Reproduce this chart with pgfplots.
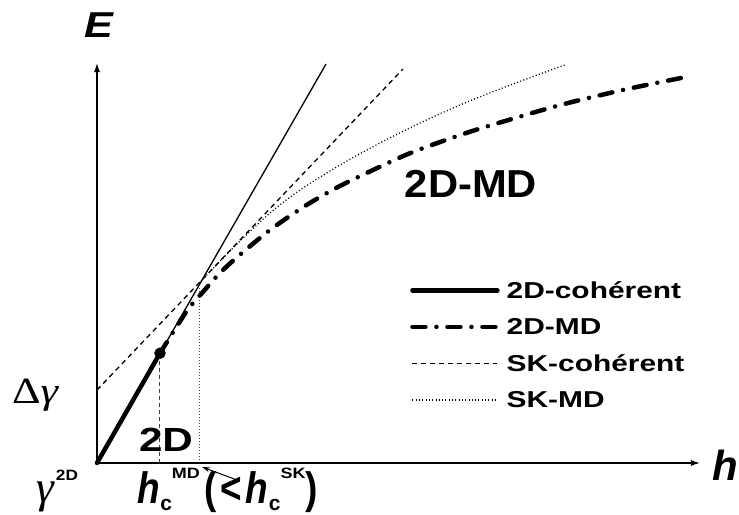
\documentclass[border=0pt]{standalone}
\usepackage{fontspec}
\setmainfont{Liberation Sans}
\newfontfamily\serif{Liberation Serif}
\usepackage{graphicx}
\usepackage{pgfplots}
\pgfplotsset{compat=1.18}
\usetikzlibrary{arrows.meta}
\newcommand{\BIG}[1]{\scalebox{0.84}[1]{\fontsize{44bp}{44bp}\selectfont\bfseries #1}}
\newcommand{\SUB}{\raisebox{-7bp}{\fontsize{21bp}{21bp}\selectfont\bfseries c}}
\newcommand{\SUP}[1]{\raisebox{25bp}{\scalebox{1.2}[1]{\fontsize{15bp}{15bp}\selectfont\bfseries #1}}}
\newcommand{\LEG}[1]{\scalebox{1.3}[1]{#1}}
\begin{document}
\begin{tikzpicture}
\begin{axis}[
  x=1bp, y=1bp, xmin=0, xmax=603, ymin=0, ymax=400,
  axis lines=left, xtick=\empty, ytick=\empty, clip=false, enlargelimits=false,
  axis line style={line width=1.2bp},
  x axis line style={-{Latex[length=9bp,width=6bp]}},
  y axis line style={-{Latex[length=9bp,width=6bp]}},
  legend style={draw=none, fill=none, at={(axis cs:313,184)}, anchor=north west,
    font=\fontsize{23bp}{27bp}\selectfont\bfseries, inner sep=0pt, row sep=14.6bp,
    /tikz/every odd column/.style={column sep=5bp}},
  legend cell align=left,
  legend image code/.code={\draw[#1] (0bp,0bp) -- (85bp,0bp);},
]
% thin full 2D-coherent line
\addplot[line width=1.3bp, forget plot] coordinates {(0,0) (229,399)};
% thick part
\addplot[line width=4.5bp, line cap=round] coordinates {(0,0) (63,109.8)};
\addlegendentry{\LEG{2D-cohérent}}
% 2D-MD
\addplot[line width=4.5bp, line cap=round, dash pattern=on 13bp off 11bp on 0bp off 11bp, smooth] coordinates {
 (63,109.8) (80,137) (92,155) (105,170) (121,188) (138,204) (173,233) (208,257) (241,276) (276,293) (311,309) (346,322) (380,333.5) (415,344) (449,354) (483,363) (535,375) (589,386)};
\addlegendentry{\LEG{2D-MD}}
% SK-coherent
\addplot[line width=1.3bp, dash pattern=on 5bp off 4bp] coordinates {(0,73) (306,394)};
\addlegendentry{\LEG{SK-cohérent}}
% SK-MD
\addplot[line width=1.3bp, dash pattern=on 1bp off 2.3bp, smooth] coordinates {
 (105,183) (140,219) (173,250) (203,273) (243,298) (283,320) (323,340) (363,358) (403,374) (443,389) (468,398)};
\addlegendentry{\LEG{SK-MD}}
% verticals
\addplot[line width=1bp, dash pattern=on 4bp off 3bp, black!75, forget plot] coordinates {(63,0) (63,109.8)};
\addplot[line width=1bp, dash pattern=on 1bp off 2bp, black!75, forget plot] coordinates {(103,0) (103,175)};
% dot
\addplot[only marks, mark=*, mark size=5.5bp, forget plot] coordinates {(63,109.8)};

\node[inner sep=0pt] at (axis cs:2,438) {\scalebox{1.2}[1]{\fontsize{36bp}{36bp}\selectfont\bfseries\itshape E}};
\node[inner sep=0pt] at (axis cs:628,-2) {\fontsize{42bp}{42bp}\selectfont\bfseries\itshape h};
\node[anchor=base west, inner sep=0pt] at (axis cs:-85,60) {\scalebox{1.2}[1]{\fontsize{37bp}{37bp}\selectfont\serif Δ\itshape γ}};
\node[anchor=base west, inner sep=0pt] at (axis cs:-61,-39) {\fontsize{45bp}{45bp}\selectfont{\serif\itshape γ}\kern2bp\raisebox{22bp}{\scalebox{1.15}[1]{\fontsize{15bp}{15bp}\selectfont\bfseries 2D}}};
\node[anchor=base west, inner sep=0pt] at (axis cs:40,-40) {\BIG{\textit{h}}\kern0.5bp\SUB\SUP{MD}\kern5bp\BIG{(}\kern3bp\BIG{<}\kern4bp\BIG{\textit{h}}\kern0.5bp\SUB\SUP{SK}\BIG{)}};
\node[inner sep=0pt] at (axis cs:69,23) {\scalebox{1.26}[1]{\fontsize{33.5bp}{33.5bp}\selectfont\bfseries 2D}};
\node[inner sep=0pt] at (axis cs:374,279) {\scalebox{1.07}[1]{\fontsize{39bp}{39bp}\selectfont\bfseries 2D-MD}};
\draw[-{Stealth[length=8bp,width=5bp]}, line width=1bp] (axis cs:140,-17) -- (axis cs:105,-4);
\end{axis}
\pgfresetboundingbox
\path (-97bp,-52bp) rectangle (642bp,463bp);
\end{tikzpicture}
\end{document}
